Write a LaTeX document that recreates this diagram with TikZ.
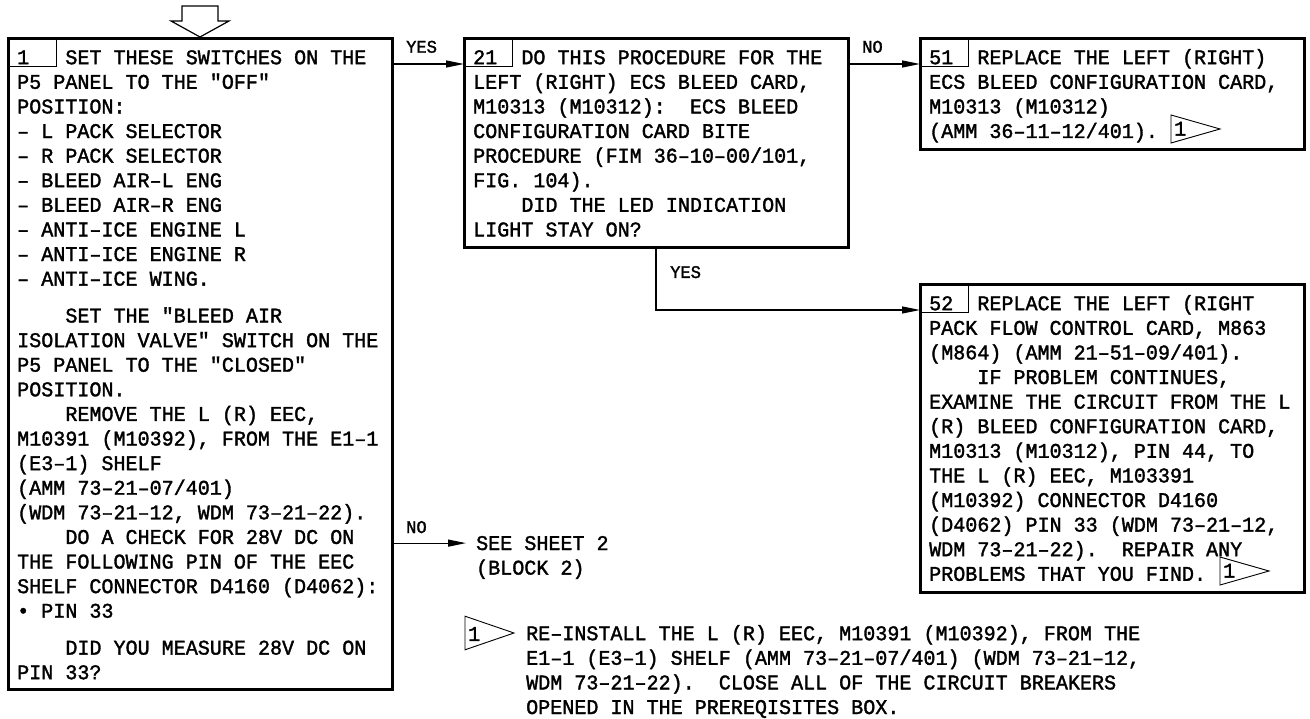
\documentclass[tikz,border=0pt]{standalone}
\usepackage{fontspec}
\newfontfamily\fm{Liberation Mono}[FakeBold=1.6, FakeStretch=0.96]
\usetikzlibrary{arrows.meta}
\newcommand\bodyfont{\fm\fontsize{20.9pt}{24.6pt}\selectfont\frenchspacing}
\newcommand\lblfont{\fm\fontsize{17.8pt}{20pt}\selectfont}
\newcommand\indentfour{\hspace*{48.2pt}}
\newcommand\boxnum[1]{\makebox[48.2pt][l]{#1}}
\newcommand\fl{\rule{0pt}{18pt}}
\tikzset{
  fnmark/.pic={
    \draw[line width=0.9pt] (0,-14) -- (49,0) -- (0,14) -- cycle;
    \node[font=\bodyfont, anchor=base west, inner sep=0pt] (-n) at (3,6.6) {1};
  }
}
\begin{document}
\begin{tikzpicture}[x=1pt, y=-1pt,
  box/.style={draw, line width=3pt, minimum width=384pt, inner sep=0pt, outer sep=0pt},
  cell/.style={draw, line width=1pt, anchor=north west, minimum width=48pt, minimum height=28pt, inner sep=0pt, outer sep=0pt},
  txt/.style={font=\bodyfont, anchor=north west, align=left, inner sep=0pt},
  lbl/.style={font=\lblfont, anchor=base west, inner sep=0pt},
  conn/.style={line width=1.2pt, -{Triangle[length=18pt,width=7pt]}}]
\useasboundingbox (0,0) rectangle (1310,719);

% entry arrow
\draw[line width=1.2pt, line join=miter] (182,6) -- (218,6) -- (218,21) -- (229,21) -- (200,37) -- (171,21) -- (182,21) -- cycle;

% boxes
\node[box, minimum height=650pt] (b1) at (200,364) {};
\node[box, minimum height=209pt] (b21) at (656,143.5) {};
\node[box, minimum height=111pt] (b51) at (1112,94.5) {};
\node[box, minimum height=307pt] (b52) at (1112,438.5) {};

% number cells
\node[cell] (c1) at (b1.north west) {};
\node[cell] (c21) at (b21.north west) {};
\node[cell] (c51) at (b51.north west) {};
\node[cell] (c52) at (b52.north west) {};

% texts
\node[txt] (t1) at (17,46) {\fl\boxnum{1}SET THESE SWITCHES ON THE\\
P5 PANEL TO THE "OFF"\\
POSITION:\\
– L PACK SELECTOR\\
– R PACK SELECTOR\\
– BLEED AIR–L ENG\\
– BLEED AIR–R ENG\\
– ANTI–ICE ENGINE L\\
– ANTI–ICE ENGINE R\\
– ANTI–ICE WING.\\[12.3pt]
\indentfour SET THE "BLEED AIR\\
ISOLATION VALVE" SWITCH ON THE\\
P5 PANEL TO THE "CLOSED"\\
POSITION.\\
\indentfour REMOVE THE L (R) EEC,\\
M10391 (M10392), FROM THE E1–1\\
(E3–1) SHELF\\
(AMM 73–21–07/401)\\
(WDM 73–21–12, WDM 73–21–22).\\
\indentfour DO A CHECK FOR 28V DC ON\\
THE FOLLOWING PIN OF THE EEC\\
SHELF CONNECTOR D4160 (D4062):\\
• PIN 33\\[12.3pt]
\indentfour DID YOU MEASURE 28V DC ON\\
PIN 33?};

\node[txt] (t21) at (473,46) {\fl\boxnum{21}DO THIS PROCEDURE FOR THE\\
LEFT (RIGHT) ECS BLEED CARD,\\
M10313 (M10312):~ ECS BLEED\\
CONFIGURATION CARD BITE\\
PROCEDURE (FIM 36–10–00/101,\\
FIG. 104).\\
\indentfour DID THE LED INDICATION\\
LIGHT STAY ON?};

\node[txt] (t51) at (929,46) {\fl\boxnum{51}REPLACE THE LEFT (RIGHT)\\
ECS BLEED CONFIGURATION CARD,\\
M10313 (M10312)\\
(AMM 36–11–12/401).};

\node[txt] (t52) at (929,292) {\fl\boxnum{52}REPLACE THE LEFT (RIGHT\\
PACK FLOW CONTROL CARD, M863\\
(M864) (AMM 21–51–09/401).\\
\indentfour IF PROBLEM CONTINUES,\\
EXAMINE THE CIRCUIT FROM THE L\\
(R) BLEED CONFIGURATION CARD,\\
M10313 (M10312), PIN 44, TO\\
THE L (R) EEC, M103391\\
(M10392) CONNECTOR D4160\\
(D4062) PIN 33 (WDM 73–21–12,\\
WDM 73–21–22).~ REPAIR ANY\\
PROBLEMS THAT YOU FIND.};

% footnote markers
\pic (m51) at (1171,129) {fnmark};
\pic (m52) at (1220,571) {fnmark};
\pic[yscale=1.2] (m0) at (465,633) {fnmark};

\node[txt] (tfn) at (526,622) {\fl RE–INSTALL THE L (R) EEC, M10391 (M10392), FROM THE\\
E1–1 (E3–1) SHELF (AMM 73–21–07/401) (WDM 73–21–12,\\
WDM 73–21–22).~ CLOSE ALL OF THE CIRCUIT BREAKERS\\
OPENED IN THE PREREQISITES BOX.};

% see sheet
\node[font=\bodyfont, anchor=base west, inner sep=0pt] (see) at (476,550) {SEE SHEET 2};
\node[font=\bodyfont, anchor=base west, inner sep=0pt] (blk) at (476,574.6) {(BLOCK 2)};

% connectors
\draw[conn] ([yshift=3pt]c21.south -| b1.east) -- ([yshift=3pt]c21.south west);
\node[lbl] (yes1) at (406,52.7) {YES};
\draw[conn] ([yshift=3pt]c51.south -| b21.east) -- ([yshift=3pt]c51.south west);
\node[lbl] (no1) at (862,52.7) {NO};
\draw[conn] (b21.south) |- ([yshift=3pt]c52.south west);
\node[lbl] (yes2) at (670,278) {YES};
\draw[conn] (b1.east |- see.west) -- ([xshift=-10pt]see.west);
\node[lbl] (no2) at (406,533) {NO};
\end{tikzpicture}
\end{document}
